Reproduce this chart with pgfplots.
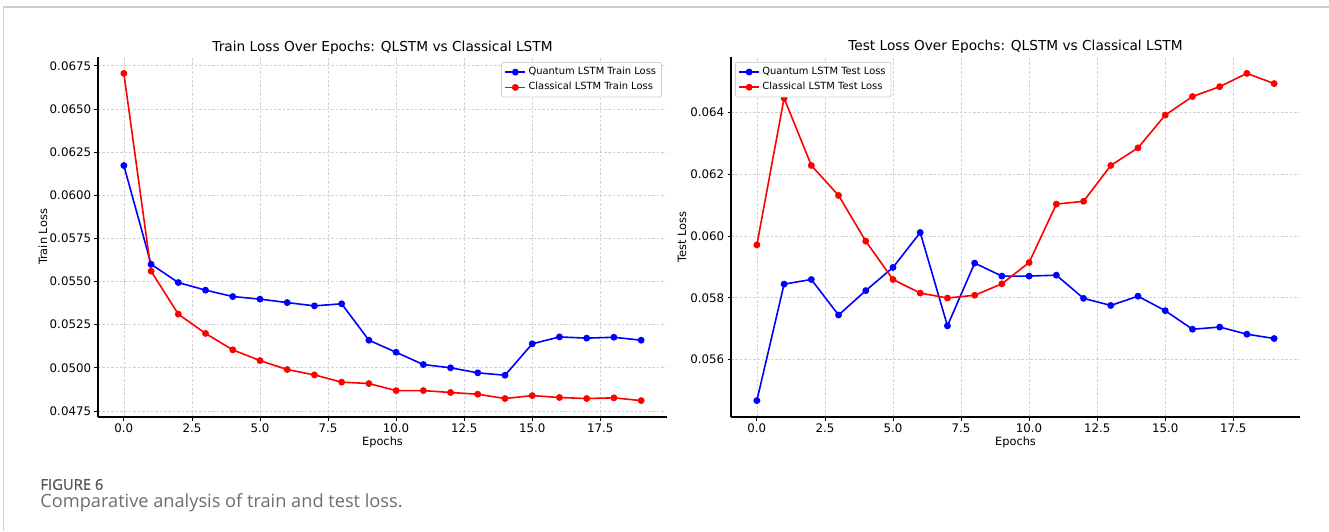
\documentclass[border=0pt]{standalone}
\usepackage{fontspec}
\setmainfont{DejaVu Sans}
\newfontfamily\capfont{Open Sans}
\usepackage{pgfplots}
\pgfplotsset{compat=1.18}
\definecolor{gridc}{HTML}{D2D2D2}
\definecolor{legc}{HTML}{D0D0D0}
\definecolor{capdark}{HTML}{555555}
\definecolor{caplight}{HTML}{6E6E6E}
\definecolor{framec}{HTML}{CDCDCD}

\pgfplotsset{
  lossaxis/.style={
    scale only axis, width=284.5pt, height=180pt,
    xmin=-0.95, xmax=19.95,
    axis x line*=bottom, axis y line*=left,
    axis line style={line width=0.65pt, black, -},
    xtick={0,2.5,5,7.5,10,12.5,15,17.5},
    scaled y ticks=false,
    tick align=outside, major tick length=1.75pt,
    tick style={black, line width=0.4pt},
    xmajorgrids, ymajorgrids,
    grid style={gridc, dash pattern=on 1.3pt off 0.9pt, line width=0.35pt},
    tick label style={font=\fontsize{5.9}{7}\selectfont},
    /pgf/number format/assume math mode=true,
    xticklabel style={yshift=1.8pt, /pgf/number format/fixed, /pgf/number format/fixed zerofill, /pgf/number format/precision=1},
    every axis title/.style={at={(0.5,1)}, anchor=base, yshift=3pt, inner sep=0pt, font=\fontsize{6.85}{8}\selectfont},
    every axis x label/.style={at={(0.5,0)}, anchor=base, yshift=-14.3pt, inner sep=0pt, font=\fontsize{5.7}{6.8}\selectfont},
    xlabel={Epochs},
    legend cell align=left,
    legend style={draw=legc, line width=0.4pt, rounded corners=1pt, fill=white,
      font=\fontsize{4.95}{5.8}\selectfont, inner xsep=1.5pt, inner ysep=1pt, row sep=0pt,
      nodes={inner sep=1.2pt}},
    legend image code/.code={\draw[mark repeat=2, mark phase=2, #1] plot coordinates {(0pt,0pt) (5pt,0pt) (10pt,0pt)};},
  },
  qline/.style={blue, line width=0.8pt, mark=*, mark size=1.3pt, mark options={solid, fill=blue}},
  cline/.style={red, line width=0.8pt, mark=*, mark size=1.3pt, mark options={solid, fill=red}},
}

\begin{document}
\begin{tikzpicture}
\useasboundingbox (0pt,0pt) rectangle (664.5pt,265.5pt);
\fill[white] (0pt,0pt) rectangle (664.5pt,265.5pt);
\draw[framec, line width=0.8pt] (1.8pt,0pt) -- (1.8pt,261.9pt) -- (664.5pt,261.9pt);

% ---------------- Train loss ----------------
\begin{axis}[lossaxis, at={(49pt,57pt)}, anchor=south west,
  ymin=0.04715, ymax=0.06801,
  ytick={0.0475,0.05,0.0525,0.055,0.0575,0.06,0.0625,0.065,0.0675},
  yticklabel style={xshift=1.8pt, /pgf/number format/fixed, /pgf/number format/fixed zerofill, /pgf/number format/precision=4},
  title={Train Loss Over Epochs: QLSTM vs Classical LSTM},
  every axis y label/.style={at={(-0.0967,0.5)}, rotate=90, anchor=center, inner sep=0pt, font=\fontsize{5.7}{6.8}\selectfont},
  ylabel={Train Loss},
  legend style={at={(0.991,0.986)}, anchor=north east},
]
\addplot[qline] table {
x y
0 0.06172
1 0.05600
2 0.05494
3 0.05450
4 0.05413
5 0.05398
6 0.05378
7 0.05359
8 0.05371
9 0.05160
10 0.05090
11 0.05019
12 0.05000
13 0.04971
14 0.04957
15 0.05139
16 0.05179
17 0.05172
18 0.05177
19 0.05160
};
\addlegendentry{Quantum LSTM Train Loss}
\addplot[cline] table {
x y
0 0.06706
1 0.05560
2 0.05311
3 0.05199
4 0.05104
5 0.05042
6 0.04990
7 0.04959
8 0.04917
9 0.04909
10 0.04868
11 0.04868
12 0.04857
13 0.04847
14 0.04822
15 0.04839
16 0.04828
17 0.04822
18 0.04826
19 0.04810
};
\addlegendentry{Classical LSTM Train Loss}
\end{axis}

% ---------------- Test loss ----------------
\begin{axis}[lossaxis, at={(365.5pt,57pt)}, anchor=south west,
  ymin=0.05414, ymax=0.06579,
  ytick={0.056,0.058,0.06,0.062,0.064},
  yticklabel style={xshift=1.8pt, /pgf/number format/fixed, /pgf/number format/fixed zerofill, /pgf/number format/precision=3},
  title={Test Loss Over Epochs: QLSTM vs Classical LSTM},
  every axis y label/.style={at={(-0.0861,0.5)}, rotate=90, anchor=center, inner sep=0pt, font=\fontsize{5.7}{6.8}\selectfont},
  ylabel={Test Loss},
  legend style={at={(0.007,0.986)}, anchor=north west},
]
\addplot[qline] table {
x y
0 0.05467
1 0.05844
2 0.05859
3 0.05744
4 0.05823
5 0.05898
6 0.06011
7 0.05709
8 0.05912
9 0.05870
10 0.05870
11 0.05873
12 0.05798
13 0.05775
14 0.05805
15 0.05758
16 0.05698
17 0.05705
18 0.05682
19 0.05668
};
\addlegendentry{Quantum LSTM Test Loss}
\addplot[cline] table {
x y
0 0.05971
1 0.06446
2 0.06228
3 0.06131
4 0.05983
5 0.05859
6 0.05815
7 0.05799
8 0.05808
9 0.05845
10 0.05914
11 0.06103
12 0.06112
13 0.06228
14 0.06285
15 0.06391
16 0.06451
17 0.06483
18 0.06526
19 0.06493
};
\addlegendentry{Classical LSTM Test Loss}
\end{axis}

% ---------------- Caption ----------------
\node[anchor=base west, inner sep=0pt, text=capdark, font=\capfont\fontsize{7.4}{8.6}\selectfont] at (20pt,20.6pt) {\addfontfeature{FakeBold=0.6}FIGURE 6};
\node[anchor=base west, inner sep=0pt, text=caplight, font=\capfont\fontsize{9.1}{10.5}\selectfont] at (20pt,11.6pt) {Comparative analysis of train and test loss.};
\end{tikzpicture}
\end{document}
